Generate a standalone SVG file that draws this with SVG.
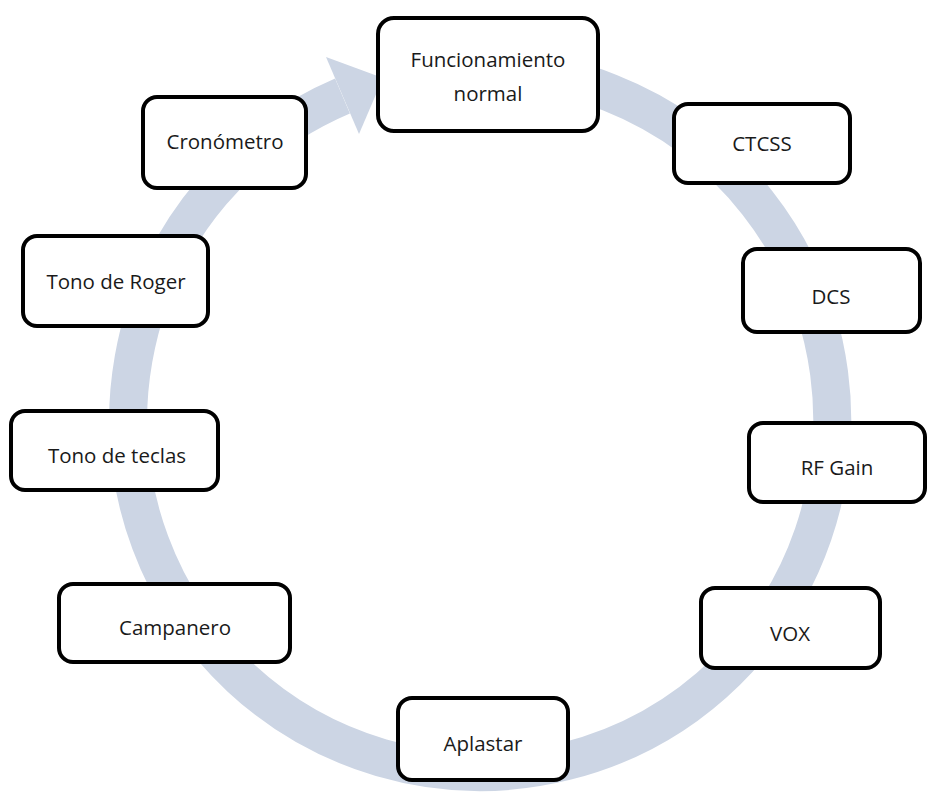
<svg xmlns="http://www.w3.org/2000/svg" width="942" height="806" viewBox="0 0 942 806">
<style>
.n rect{fill:#fff;stroke:#000;stroke-width:4}
.n text{font-family:"Open Sans","Liberation Sans",sans-serif;font-size:20.5px;fill:#1a1a1a;text-anchor:middle}
</style>
<rect width="942" height="806" fill="#fff"/>
<g id="connectors">
<path d="M449.3 69.3 A352 352 0 1 1 342.5 96" fill="none" stroke="#ccd5e4" stroke-width="38"/>
<polygon points="326,57 359,134 383,78" fill="#ccd5e4"/>
</g>
<g id="n1" class="n"><rect x="378" y="18" width="220" height="113" rx="16"/><text x="488" y="67">Funcionamiento</text><text x="488" y="101">normal</text></g>
<g id="n2" class="n"><rect x="674" y="104" width="176" height="79" rx="14"/><text x="762" y="151">CTCSS</text></g>
<g id="n3" class="n"><rect x="743" y="249" width="177" height="83" rx="14"/><text x="831" y="304">DCS</text></g>
<g id="n4" class="n"><rect x="749" y="423" width="176" height="79" rx="14"/><text x="837" y="475">RF Gain</text></g>
<g id="n5" class="n"><rect x="701" y="588" width="179" height="80" rx="14"/><text x="790" y="641">VOX</text></g>
<g id="n6" class="n"><rect x="398" y="698" width="170" height="82" rx="14"/><text x="483" y="751">Aplastar</text></g>
<g id="n7" class="n"><rect x="59" y="584" width="231" height="78" rx="14"/><text x="175" y="635">Campanero</text></g>
<g id="n8" class="n"><rect x="11" y="411" width="207" height="79" rx="14"/><text x="117" y="463">Tono de teclas</text></g>
<g id="n9" class="n"><rect x="23" y="236" width="185" height="90" rx="14"/><text x="116" y="289">Tono de Roger</text></g>
<g id="n10" class="n"><rect x="143" y="97" width="163" height="91" rx="14"/><text x="225" y="149">Cronómetro</text></g>
</svg>
